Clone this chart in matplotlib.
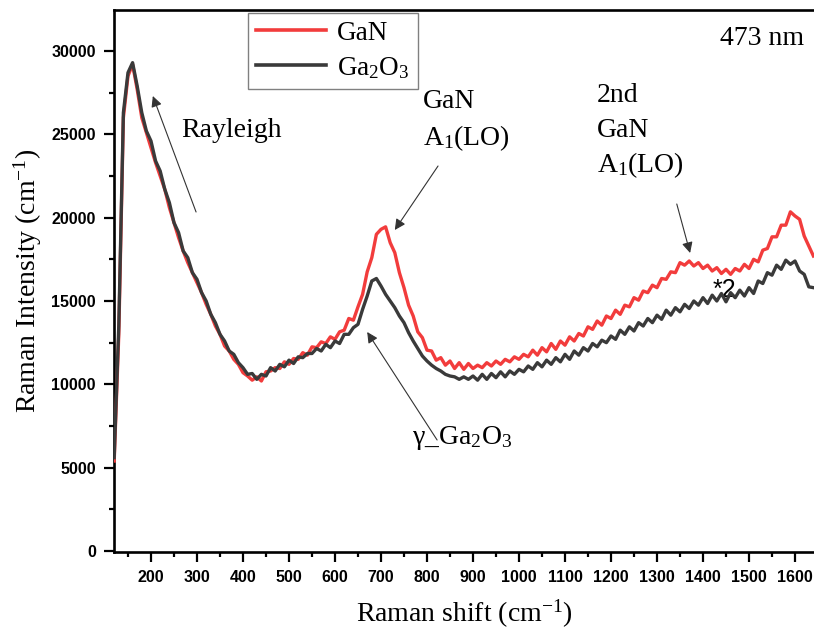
import numpy as np
import matplotlib
matplotlib.use("Agg")
import matplotlib.pyplot as plt
from matplotlib.ticker import MultipleLocator

plt.rcParams['mathtext.fontset'] = 'custom'
plt.rcParams['mathtext.rm'] = 'Liberation Serif'
plt.rcParams['mathtext.it'] = 'Liberation Serif:italic'
plt.rcParams['mathtext.bf'] = 'Liberation Serif:bold'

# Raman shift grid (cm^-1), 10 cm^-1 sampling
shift = np.arange(120, 1641, 10)

gan = [
    5400, 13000, 26000, 28500, 29200, 27700, 26000, 25100, 24200, 23300,
    22500, 21700, 20600, 19700, 18800, 18000, 17300, 16700, 16100, 15500,
    14800, 14200, 13500, 13000, 12300, 12000, 11500, 11200, 10700, 10500,
    10250, 10450, 10200, 10750, 10800, 11000, 10950, 11350, 11200, 11550,
    11500, 11900, 11750, 12250, 12200, 12550, 12450, 12850, 12700, 13150,
    13250, 13950, 13850, 14650, 15400, 16750, 17600, 19000, 19300, 19450,
    18500, 17900, 16700, 15800, 14750, 14100, 13150, 12800, 12050, 12000,
    11450, 11600, 11150, 11400, 10950, 11300, 10900, 11250, 10950, 11150,
    11000, 11300, 11100, 11400, 11200, 11500, 11350, 11650, 11500, 11800,
    11650, 12050, 11750, 12200, 11950, 12450, 12100, 12600, 12350, 12850,
    12600, 13050, 12900, 13450, 13300, 13800, 13550, 14100, 13950, 14450,
    14200, 14750, 14650, 15200, 15050, 15600, 15500, 15950, 15800, 16350,
    16300, 16750, 16700, 17300, 17150, 17400, 17100, 17300, 16950, 17150,
    16800, 17000, 16650, 16900, 16600, 16950, 16800, 17200, 16950, 17500,
    17350, 18050, 18150, 18850, 18850, 19550, 19550, 20350, 20100, 19900,
    18900, 18300, 17700,
]

ga2o3 = [
    5600, 13500, 26300, 28700, 29300, 27900, 26300, 25200, 24600, 23400,
    22800, 21700, 20900, 19700, 19100, 18000, 17600, 16700, 16300, 15500,
    15000, 14200, 13700, 13000, 12600, 12000, 11800, 11300, 11000, 10600,
    10650, 10300, 10600, 10500, 11000, 10800, 11200, 11050, 11450, 11250,
    11650, 11600, 11850, 11850, 12150, 12000, 12400, 12200, 12600, 12450,
    13000, 13000, 13400, 13600, 14500, 15300, 16200, 16350, 15900, 15400,
    15000, 14600, 14100, 13700, 13100, 12600, 12150, 11700, 11400, 11150,
    10950, 10800, 10600, 10500, 10450, 10300, 10450, 10300, 10500, 10250,
    10600, 10300, 10650, 10400, 10750, 10450, 10800, 10600, 10900, 10750,
    11100, 10900, 11300, 11050, 11450, 11200, 11600, 11350, 11800, 11500,
    12000, 11750, 12200, 12000, 12450, 12250, 12650, 12500, 12900, 12700,
    13250, 13000, 13450, 13200, 13700, 13500, 13950, 13700, 14150, 13900,
    14450, 14150, 14600, 14350, 14800, 14550, 15000, 14750, 15200, 14850,
    15350, 15000, 15450, 14950, 15500, 15200, 15650, 15300, 15800, 15450,
    16200, 16050, 16700, 16550, 17150, 16900, 17450, 17200, 17400, 16800,
    16600, 15850, 15800,
]

series_labels = ["GaN", "Ga$_2$O$_3$\u2002"]
series_colors = ["#F23C3C", "#3A3A3A"]

x_ticks = [200, 300, 400, 500, 600, 700, 800, 900, 1000, 1100, 1200, 1300, 1400, 1500, 1600]
y_ticks = [0, 5000, 10000, 15000, 20000, 25000, 30000]

SERIF = "Liberation Serif"
SANS = "Liberation Sans"

fig = plt.figure(figsize=(8.14, 6.34), dpi=100)
ax = fig.add_axes([114 / 814, 1 - 552 / 634, 700 / 814, 542 / 634])

ax.plot(shift, gan, color=series_colors[0], lw=2.4, label=series_labels[0], zorder=3)
ax.plot(shift, ga2o3, color=series_colors[1], lw=2.4, label=series_labels[1], zorder=4)

ax.set_xlim(119.6, 1641.3)
ax.set_ylim(-60, 32460)

ax.set_xticks(x_ticks)
ax.set_yticks(y_ticks)
ax.xaxis.set_minor_locator(MultipleLocator(50))
ax.yaxis.set_minor_locator(MultipleLocator(2500))
ax.tick_params(which='major', direction='out', length=7.5, width=1.6, pad=5.5)
ax.tick_params(which='minor', direction='out', length=3.8, width=1.6)
for lab in ax.get_xticklabels() + ax.get_yticklabels():
    lab.set_fontfamily(SANS)
    lab.set_fontweight('bold')
    lab.set_fontsize(11.5)

for side in ['left', 'bottom', 'top']:
    ax.spines[side].set_linewidth(1.9)
ax.spines['right'].set_visible(False)

ax.set_xlabel("Raman shift (cm$^{-1}$)", fontfamily=SERIF, fontsize=20, labelpad=9)
ax.set_ylabel("Raman Intensity (cm$^{-1}$)", fontfamily=SERIF, fontsize=20, labelpad=5)

leg = ax.legend(loc='upper left', bbox_to_anchor=(0.1914, 0.9945), borderaxespad=0,
                prop={'family': SERIF, 'size': 19.5}, handlelength=2.6, handletextpad=0.4,
                labelspacing=0.35, borderpad=0.28, fancybox=False, framealpha=1)
leg.get_frame().set_edgecolor('#808080')
leg.get_frame().set_linewidth(1.0)
for h in leg.get_lines():
    h.set_linewidth(2.6)

tfs = 20
ax.text(1437, 30360, "473 nm", fontfamily=SERIF, fontsize=tfs, va='baseline')
ax.text(265, 24840, "Rayleigh", fontfamily=SERIF, fontsize=tfs, va='baseline')
ax.text(791, 26580, "GaN", fontfamily=SERIF, fontsize=tfs, va='baseline')
ax.text(791, 24360, "A$_1$(LO)", fontfamily=SERIF, fontsize=tfs, va='baseline')
ax.text(1170, 26940, "2nd", fontfamily=SERIF, fontsize=tfs, va='baseline')
ax.text(1170, 24840, "GaN", fontfamily=SERIF, fontsize=tfs, va='baseline')
ax.text(1170, 22740, "A$_1$(LO)", fontfamily=SERIF, fontsize=tfs, va='baseline')
ax.text(767, 6420, "γ_Ga$_2$O$_3$", fontfamily=SERIF, fontsize=tfs, va='baseline')
ax.text(1420, 15240, "*2", fontfamily=SANS, fontsize=18, va='baseline')

arrow_kw = dict(arrowstyle='-|>', color='#333333', lw=0.8, mutation_scale=16, shrinkA=0, shrinkB=0)
ax.annotate("", xy=(204, 27300), xytext=(298, 20340), arrowprops=arrow_kw)
ax.annotate("", xy=(730, 19260), xytext=(824, 23100), arrowprops=arrow_kw)
ax.annotate("", xy=(1372, 17880), xytext=(1343, 20820), arrowprops=arrow_kw)
ax.annotate("", xy=(670, 13140), xytext=(822, 6660), arrowprops=arrow_kw)

fig.savefig("out.png", dpi=100)
